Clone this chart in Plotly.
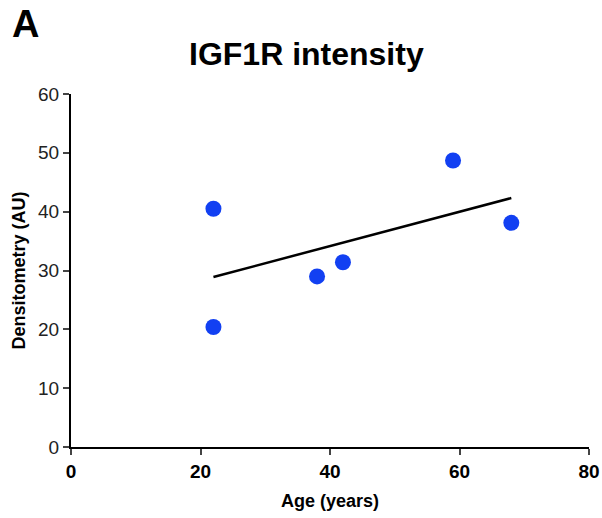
import numpy as np
import plotly.graph_objects as go

age = [22, 22, 38, 42, 59, 68]
densitometry = [40.5, 20.4, 29.0, 31.4, 48.7, 38.1]
x_ticks = [0, 20, 40, 60, 80]
y_ticks = [0, 10, 20, 30, 40, 50, 60]

slope, intercept = np.polyfit(age, densitometry, 1)
fit_x = [min(age), max(age)]
fit_y = [slope * v + intercept for v in fit_x]

fig = go.Figure()
fig.add_trace(go.Scatter(x=fit_x, y=fit_y, mode="lines",
                         line=dict(color="black", width=2.5), showlegend=False))
fig.add_trace(go.Scatter(x=age, y=densitometry, mode="markers",
                         marker=dict(color="#1240F2", size=16, line=dict(width=0)),
                         showlegend=False))

font_family = "Liberation Sans, Arial, sans-serif"
fig.update_layout(
    width=602, height=518, autosize=False,
    margin=dict(l=71, r=13, t=94, b=71),
    paper_bgcolor="white", plot_bgcolor="white",
    font=dict(family=font_family, color="black"),
    xaxis=dict(range=[0, 80], tickvals=x_ticks, ticks="outside", ticklen=6, tickwidth=2,
               showline=True, linecolor="black", linewidth=2, showgrid=False, zeroline=False,
               automargin=False,
               tickfont=dict(size=19, family=font_family, color="black", weight="bold"),
               title=dict(text="<b>Age (years)</b>", font=dict(size=18), standoff=14)),
    yaxis=dict(range=[0, 60], tickvals=y_ticks, ticks="outside", ticklen=6, tickwidth=2,
               showline=True, linecolor="black", linewidth=2, showgrid=False, zeroline=False,
               automargin=False,
               tickfont=dict(size=19, color="#222"),
               title=dict(text="<b>Densitometry (AU)</b>", font=dict(size=18), standoff=8)),
    annotations=[
        dict(text="<b>IGF1R intensity</b>", xref="paper", yref="paper", x=0.4537, y=1.0,
             yshift=20, xanchor="center", yanchor="bottom", showarrow=False,
             font=dict(size=32, family=font_family)),
        dict(text="<b>A</b>", xref="paper", yref="paper", x=-0.118, y=1.0,
             yshift=47, xanchor="left", yanchor="bottom", showarrow=False,
             font=dict(size=38, family=font_family)),
    ],
)
fig.write_html(
    "out.html",
    config={"displayModeBar": False},
    post_script="document.body.style.margin='0';document.documentElement.style.overflow='hidden';",
)
